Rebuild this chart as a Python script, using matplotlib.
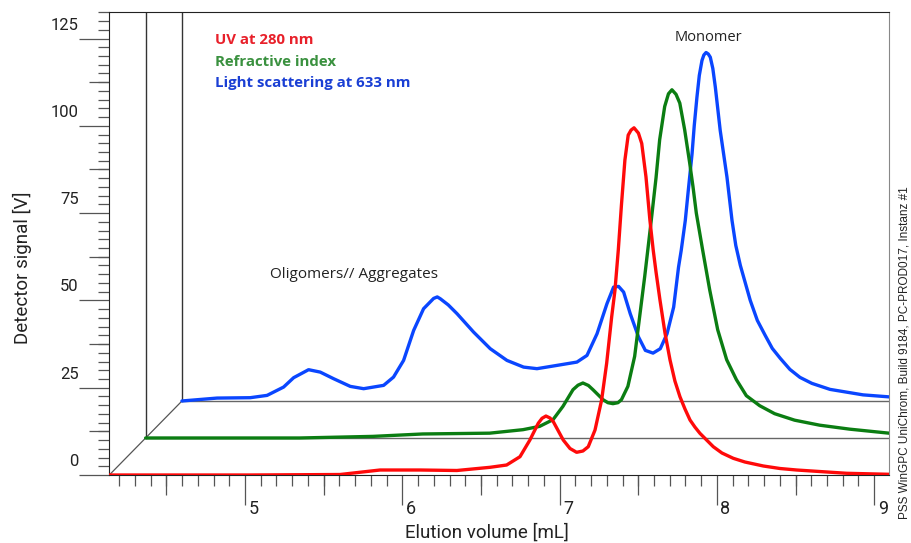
import numpy as np
import matplotlib.pyplot as plt
from matplotlib.ticker import MultipleLocator, FixedLocator
from matplotlib.transforms import ScaledTranslation

# UV a 280 nm (traza delantera, sin desplazamiento)
uv_vol = [4.137, 5.031, 5.604, 5.858, 6.112, 6.347, 6.557, 6.663, 6.748, 6.811,
          6.864, 6.888, 6.913, 6.939, 6.960, 7.023, 7.066, 7.108, 7.148, 7.182,
          7.225, 7.267, 7.299, 7.331, 7.352, 7.373, 7.393, 7.415, 7.436, 7.454,
          7.473, 7.501, 7.522, 7.549, 7.574, 7.595, 7.613, 7.638, 7.670, 7.702,
          7.733, 7.765, 7.797, 7.829, 7.860, 7.892, 7.977, 8.032, 8.104, 8.178,
          8.295, 8.401, 8.507, 8.825, 9.096]
uv_sig = [0.0, 0.0, 0.14, 1.43, 1.43, 1.29, 2.20, 2.86, 5.24, 10.02,
          14.80, 16.23, 16.89, 16.32, 15.26, 10.02, 7.59, 6.50, 6.87, 8.10,
          12.88, 21.47, 31.98, 45.32, 52.96, 64.41, 77.30, 90.18, 97.34, 98.77,
          99.43, 97.91, 94.96, 85.40, 73.00, 64.41, 58.12, 50.10, 40.65, 32.92,
          26.91, 22.42, 18.90, 15.75, 13.74, 11.94, 8.10, 6.30, 4.78, 3.72,
          2.58, 1.86, 1.43, 0.49, 0.20]

# Índice de refracción
ri_vol = [4.137, 5.116, 5.582, 5.898, 6.324, 6.536, 6.642, 6.727, 6.790, 6.854,
          6.886, 6.917, 6.952, 6.981, 7.045, 7.076, 7.108, 7.140, 7.162, 7.203,
          7.246, 7.278, 7.310, 7.352, 7.382, 7.405, 7.437, 7.461, 7.483, 7.509,
          7.533, 7.564, 7.596, 7.617, 7.638, 7.678, 7.723, 7.774, 7.831, 7.893,
          7.956, 8.041, 8.136, 8.263, 8.422, 8.613, 8.863]
ri_sig = [0.0, 0.0, 0.46, 1.15, 1.38, 2.38, 3.33, 5.25, 9.05, 13.83,
          15.12, 15.75, 15.04, 13.83, 10.97, 10.11, 9.83, 10.11, 10.97, 14.78,
          23.37, 34.82, 46.27, 62.50, 74.53, 85.41, 94.94, 98.58, 99.72, 98.43,
          95.91, 88.27, 78.74, 71.95, 64.42, 53.91, 42.46, 31.01, 22.42, 16.70,
          12.12, 9.25, 6.96, 5.10, 3.67, 2.53, 1.38]

# Dispersión de luz a 633 nm
ls_vol = [4.137, 4.360, 4.571, 4.678, 4.783, 4.847, 4.942, 5.016, 5.101, 5.207,
          5.292, 5.419, 5.482, 5.546, 5.610, 5.673, 5.737, 5.760, 5.779, 5.830,
          5.886, 5.991, 6.097, 6.203, 6.309, 6.394, 6.521, 6.648, 6.712, 6.776,
          6.839, 6.881, 6.913, 6.945, 6.987, 7.040, 7.083, 7.132, 7.178, 7.221,
          7.263, 7.294, 7.311, 7.337, 7.356, 7.380, 7.394, 7.411, 7.426, 7.443,
          7.455, 7.469, 7.483, 7.496, 7.512, 7.528, 7.559, 7.602, 7.634, 7.658,
          7.687, 7.750, 7.795, 7.845, 7.890, 7.941, 8.002, 8.066, 8.142, 8.257,
          8.467, 8.634]
ls_sig = [0.0, 0.83, 0.94, 1.60, 3.98, 6.67, 8.96, 8.27, 6.38, 4.18,
          3.52, 4.47, 6.84, 11.62, 20.21, 26.42, 29.37, 29.80, 29.29, 27.51,
          24.99, 19.73, 14.97, 11.62, 9.70, 9.25, 10.19, 11.14, 13.05, 19.27,
          27.86, 32.61, 32.81, 31.18, 24.99, 18.29, 14.49, 13.71, 14.97, 19.27,
          26.88, 38.33, 43.11, 51.70, 60.29, 70.80, 78.90, 87.00, 93.22, 97.51,
          99.08, 99.80, 99.37, 98.45, 95.22, 89.87, 77.47, 64.10, 51.70, 44.55,
          38.82, 28.80, 23.07, 18.78, 15.06, 12.20, 9.05, 6.76, 5.04, 3.32,
          1.75, 1.17]

# desplazamiento pseudo-3D entre trazas
DX, DY = 0.231, 10.6
X_MIN, X_MAX = 4.137, 9.096
Y_MAX = 132.6

trazas = [
    (ls_vol, ls_sig, 2, '#0a46ff', 'Light scattering at 633 nm', '#1a3fd4'),
    (ri_vol, ri_sig, 1, '#0b7d12', 'Refractive index', '#3a913f'),
    (uv_vol, uv_sig, 0, '#ff0a0a', 'UV at 280 nm', '#e8202a'),
]

fig = plt.figure(figsize=(9.12, 5.43), dpi=100)
ax = fig.add_axes([109.3 / 912, 68 / 543, 780 / 912, 463 / 543])
ax.set_xlim(X_MIN, X_MAX)
ax.set_ylim(0, Y_MAX)

# marco 3D: diagonal, verticales y líneas base
ax.plot([X_MIN, X_MIN + 2 * DX], [0, 2 * DY], color='#555555', lw=0.9, zorder=1)
for k in (1, 2):
    x0, y0 = X_MIN + k * DX, k * DY
    ax.plot([x0, x0], [y0, Y_MAX], color='#333333', lw=1.0, zorder=1)
    ax.plot([x0, X_MAX], [y0, y0], color='#666666', lw=1.0, zorder=1)

for vol, sig, k, col, _, _ in trazas:
    ax.plot(np.array(vol) + k * DX, np.array(sig) + k * DY, color=col, lw=2.4,
            solid_joinstyle='round', solid_capstyle='round', zorder=3 + (2 - k))

# textos tipo leyenda
ty = [40, 61.7, 82.7]
for (vol, sig, k, col, txt, tcol), yy in zip(trazas[::-1], ty):
    fig.text(215 / 912, 1 - yy / 543, txt, color=tcol, fontsize=10.8,
             fontweight='bold', family='Open Sans', va='center', ha='left')

ax.text(7.949, 125.4, 'Monomer', fontsize=10.5, family='Open Sans',
        ha='center', va='center', color='#222222')
ax.text(5.693, 57.5, 'Oligomers// Aggregates', fontsize=11, family='Open Sans',
        ha='center', va='center', color='#222222')

# ejes y marcas
for s in ('top', 'left', 'bottom'):
    ax.spines[s].set_color('#222222')
ax.spines['right'].set_color('#888888')

ax.xaxis.set_major_locator(FixedLocator(np.arange(5, 10, 1)))
ax.xaxis.set_minor_locator(MultipleLocator(0.1))
ax.yaxis.set_major_locator(FixedLocator(np.arange(0, 126, 25)))
ax.yaxis.set_minor_locator(MultipleLocator(2.5))
ax.tick_params(which='major', length=21.6, width=0.9, color='#555555',
               labelcolor='#222222')
ax.tick_params(which='minor', length=7.6, width=0.9, color='#555555')
ax.tick_params(axis='x', pad=0, labelsize=13)
ax.tick_params(axis='y', pad=0.5, labelsize=12)

secx = ax.secondary_xaxis('bottom')
secx.set_xticks(np.arange(4.5, 9.1, 1.0))
secx.tick_params(length=14.4, width=0.9, color='#555555', labelbottom=False)
secx.spines['bottom'].set_visible(False)
secy = ax.secondary_yaxis('left')
secy.set_yticks(np.arange(12.5, 130, 25))
secy.tick_params(length=14.4, width=0.9, color='#555555', labelleft=False)
secy.spines['left'].set_visible(False)

for lab in ax.get_xticklabels():
    lab.set_family('Roboto')
    lab.set_ha('left')
    lab.set_transform(lab.get_transform() + ScaledTranslation(0.035, 0.05, fig.dpi_scale_trans))
for lab in ax.get_yticklabels():
    lab.set_family('Roboto')
    lab.set_va('baseline')
    lab.set_transform(lab.get_transform() + ScaledTranslation(0, 0.09, fig.dpi_scale_trans))

ax.set_xlabel('Elution volume [mL]', fontsize=13.5, family='Roboto', color='#222222')
ax.xaxis.set_label_coords((487 - 109.3) / 780, -(533 - 475) / 463)
ax.xaxis.label.set_va('center')
ax.set_ylabel('Detector signal [V]', fontsize=13.5, family='Roboto', color='#222222')
ax.yaxis.set_label_coords((22 - 109.3) / 780, (475 - 268) / 463)
ax.yaxis.label.set_va('center')

fig.text(905 / 912, 1 - 353 / 543, 'PSS WinGPC UniChrom, Build 9184, PC-PROD017, Instanz #1',
         rotation=90, fontsize=8.5, family='Liberation Sans', ha='center', va='center',
         color='#222222')

fig.savefig('out.png', dpi=100)
